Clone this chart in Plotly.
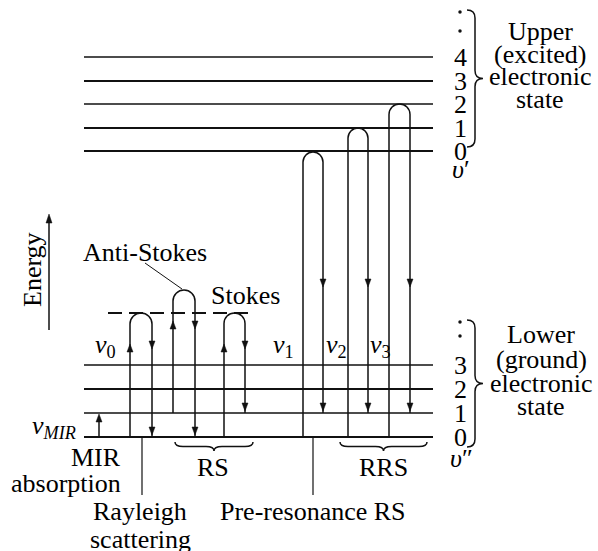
import plotly.graph_objects as go

FONT = "'Liberation Serif', 'Times New Roman', Times, 'DejaVu Serif', serif"
INK = "#111111"

# ---- data (energy axis, arbitrary units increasing upward) ----
lower_levels = [114, 138, 162, 186]            # v'' = 0..3
upper_levels = [400, 423, 447, 470, 494]       # v' = 0..4
lower_labels = ["0", "1", "2", "3"]
upper_labels = ["0", "1", "2", "3", "4"]
virtual_level = 238
anti_stokes_top = 261

# transitions: left leg (up), loop top, right leg (down)
trans_names = ["Rayleigh", "Anti-Stokes", "Stokes", "Pre-resonance", "RRS2", "RRS3"]
trans_x_left = [130, 173, 224, 303, 348, 389]
trans_x_right = [152, 195, 245, 323, 368, 410]
trans_start = [lower_levels[0], lower_levels[1], lower_levels[0], lower_levels[0], lower_levels[0], lower_levels[0]]
trans_top = [virtual_level, anti_stokes_top, virtual_level, upper_levels[0] - 1, upper_levels[1], upper_levels[2]]
trans_end = [lower_levels[0], lower_levels[0], lower_levels[1], lower_levels[1], lower_levels[1], lower_levels[1]]
up_arrow_y = [203, 226, 203, None, None, None]
down_arrow_y = [206, 226, 206, 268, 268, 268]

freq_labels = ["<i>ν</i><sub>0</sub>", "<i>ν</i><sub>1</sub>", "<i>ν</i><sub>2</sub>", "<i>ν</i><sub>3</sub>"]
freq_label_x = [105, 283, 336, 380]

upper_text = ["Upper", "(excited)", "electronic", "state"]
lower_text = ["Lower", "(ground)", "electronic", "state"]

# ---- geometry / style ----
X0, X1 = 84, 433
shapes = []
annotations = []


def line(x0, y0, x1, y1, w=1.5, dash=None, color=INK):
    d = dict(type="line", xref="x", yref="y", x0=x0, y0=y0, x1=x1, y1=y1,
             line=dict(color=color, width=w))
    if dash:
        d["line"]["dash"] = dash
    shapes.append(d)


def path(p, w=1.5, fill=None):
    d = dict(type="path", xref="x", yref="y", path=p, line=dict(color=INK, width=w))
    if fill:
        d["fillcolor"] = fill
        d["line"]["width"] = 0.5
    shapes.append(d)


def tri(x, tip, direction, hw=3, h=8):
    base = tip - direction * h
    path(f"M{x - hw},{base} L{x},{tip} L{x + hw},{base} Z", fill=INK)


def text(x, y, s, size=26, xanchor="center", angle=0):
    annotations.append(dict(x=x, y=y, xref="x", yref="y", text=s, showarrow=False,
                            xanchor=xanchor, yanchor="middle", textangle=angle,
                            font=dict(family=FONT, size=size, color="black")))


def sgn(v):
    return 1 if v >= 0 else -1


def brace(t0, t1, base, depth, vertical):
    L = t1 - t0
    s_ = sgn(L)
    r = min(8, abs(L) / 6)
    mid = t0 + L / 2
    h = depth / 2
    pts = [
        ("M", [(t0, 0)]),
        ("Q", [(t0, h), (t0 + r * s_, h)]),
        ("L", [(mid - r * s_, h)]),
        ("Q", [(mid, h), (mid, depth)]),
        ("Q", [(mid, h), (mid + r * s_, h)]),
        ("L", [(t1 - r * s_, h)]),
        ("Q", [(t1, h), (t1, 0)]),
    ]
    s = ""
    for cmd, pl in pts:
        coords = []
        for t, u in pl:
            if vertical:
                coords.append(f"{base + u},{t}")
            else:
                coords.append(f"{t},{base + u}")
        s += cmd + " ".join(coords) + " "
    path(s, w=1.5)


# energy levels
lower_w = [2, 1.5, 2, 1.5]
upper_w = [2, 2, 1.5, 2, 1.4]
for y, w in zip(lower_levels, lower_w):
    line(X0, y, X1, y, w=w)
for y, w in zip(upper_levels, upper_w):
    line(X0, y, X1, y, w=w)

# virtual level (dashed)
line(108, virtual_level, 253, virtual_level, w=2, dash="14px,7px")

# transitions
K = 0.5523
for xl, xr, ys, yt, ye, ua, da in zip(trans_x_left, trans_x_right, trans_start,
                                      trans_top, trans_end, up_arrow_y, down_arrow_y):
    r = (xr - xl) / 2
    xc = xl + r
    yc = yt - r
    p = (f"M{xl},{ys} L{xl},{yc} "
         f"C{xl},{yc + K * r} {xc - K * r},{yt} {xc},{yt} "
         f"C{xc + K * r},{yt} {xr},{yc + K * r} {xr},{yc} "
         f"L{xr},{ye}")
    path(p, w=1.5)
    if ua is not None:
        tri(xl, ua + 4, +1)
    tri(xr, da - 4, -1)
    tri(xr, ye + 2, -1)

# MIR absorption arrow
line(99, lower_levels[0], 99, lower_levels[1] - 6, w=1.5)
tri(99, lower_levels[1] - 1, +1)

# Energy axis arrow
line(49, 221, 49, 330, w=1.5)
tri(49, 337, +1, hw=3, h=9)

# pointer lines
line(142, lower_levels[0], 142, 56, w=1.2)
line(313, lower_levels[0], 313, 56, w=1.2)
line(145, 288, 182, 262, w=1.0)

# braces
brace(541, 404, 467, 16, vertical=True)
brace(231, 104, 467, 16, vertical=True)
brace(175, 253, 109, -9, vertical=False)
brace(340, 427, 109, -9, vertical=False)

# ---- text ----
text(32, 281, "Energy", angle=-90)
text(145, 299, "Anti-Stokes")
text(245, 256, "Stokes")
for s, x in zip(freq_labels, freq_label_x):
    text(x, 205, s)
text(54, 124, "<i>ν</i><sub><i>MIR</i></sub>")
text(123, 94, "MIR", xanchor="right")
text(123, 68, "absorption", xanchor="right")
text(213, 84, "RS")
text(383, 84, "RRS")
text(140, 40, "Rayleigh")
text(140, 12, "scattering")
text(313, 40, "Pre-resonance RS")

for y, s in zip(lower_levels, lower_labels):
    text(460, y, s)
for y, s in zip(upper_levels, upper_labels):
    text(460, y, s)
text(461, 382, "<i>υ</i>′")
text(461, 93, "<i>υ</i>″")

for y, s in zip([520, 497, 475, 452], upper_text):
    text(540, y, s)
for y, s in zip([217, 192, 168, 145], lower_text):
    text(541, y, s)

# vertical ellipsis dots above the level numbers
fig = go.Figure()
fig.add_trace(go.Scatter(x=[460, 460, 460, 460], y=[539, 520, 229, 215], mode="markers",
                         marker=dict(size=3.5, color=INK), hoverinfo="skip", showlegend=False))

fig.update_layout(
    width=598, height=551,
    margin=dict(l=0, r=0, t=0, b=0),
    paper_bgcolor="white", plot_bgcolor="white",
    xaxis=dict(range=[0, 598], visible=False, fixedrange=True),
    yaxis=dict(range=[0, 551], visible=False, fixedrange=True),
    shapes=shapes, annotations=annotations, showlegend=False,
)
fig.write_html("out.html")
